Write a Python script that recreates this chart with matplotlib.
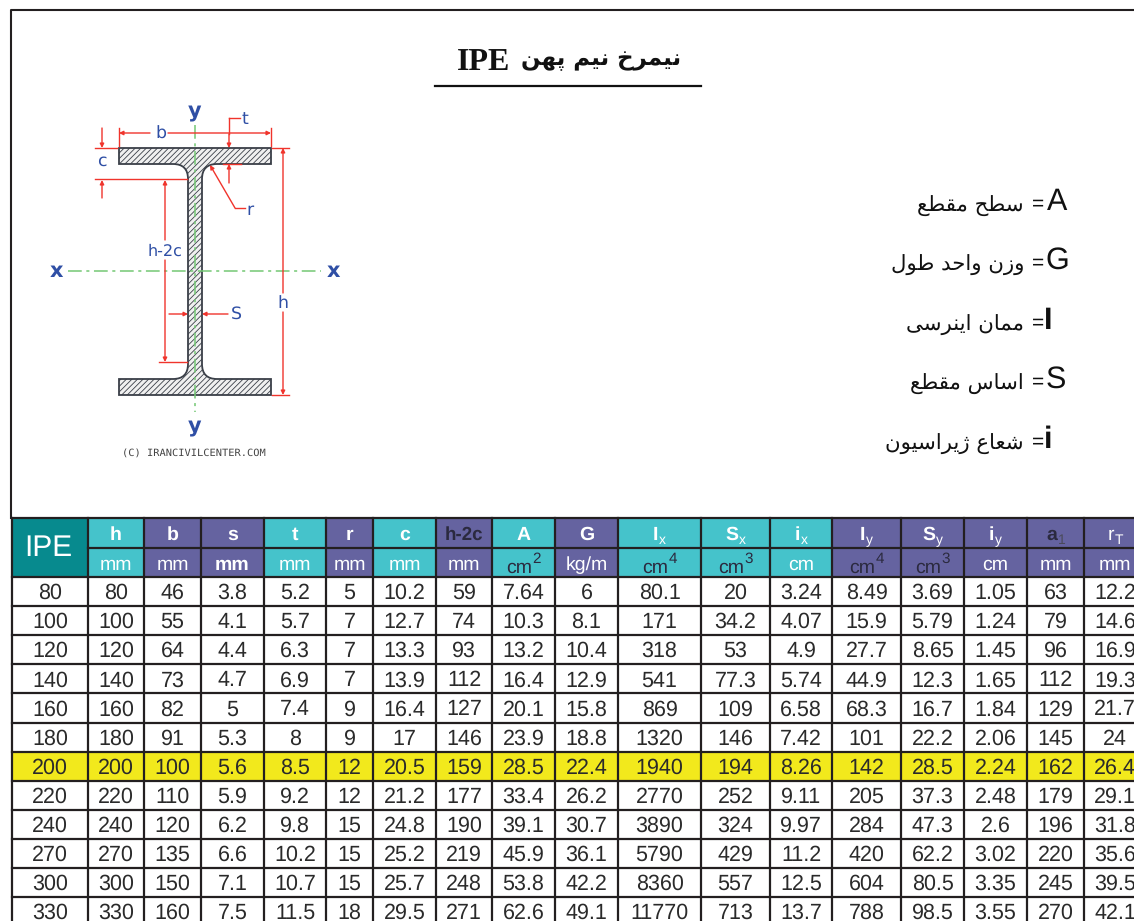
# IPE section table

import matplotlib
matplotlib.use('Agg')
import matplotlib.pyplot as plt
from matplotlib.patches import Rectangle, PathPatch
from matplotlib.path import Path

plt.rcParams['font.family'] = ['Liberation Sans', 'DejaVu Sans']
plt.rcParams['text.hinting'] = 'no_hinting'
plt.rcParams['hatch.color'] = '#a8a8a8'
plt.rcParams['hatch.linewidth'] = 0.6

title_fa = 'نیمرخ نیم پهن'
legend_letters = ['A', 'G', 'I', 'S', 'i']
legend_fa = ['سطح مقطع', 'وزن واحد طول', 'ممان اینرسی', 'اساس مقطع', 'شعاع ژیراسیون']

col_names = ['h', 'b', 's', 't', 'r', 'c', 'h-2c', 'A', 'G', 'I', 'S', 'i', 'I', 'S', 'i', 'a', 'r']
col_subs = ['', '', '', '', '', '', '', '', '', 'x', 'x', 'x', 'y', 'y', 'y', '1', 'T']
col_units = ['mm', 'mm', 'mm', 'mm', 'mm', 'mm', 'mm', 'cm', 'kg/m', 'cm', 'cm', 'cm', 'cm', 'cm', 'cm', 'mm', 'mm']
col_pows = ['', '', '', '', '', '', '', '2', '', '4', '3', '', '4', '3', '', '', '']
teal_cols = [0, 3, 5, 7, 9, 10, 11]

ipe = ['80', '100', '120', '140', '160', '180', '200', '220', '240', '270', '300', '330']
rows = [
    ['80', '46', '3.8', '5.2', '5', '10.2', '59', '7.64', '6', '80.1', '20', '3.24', '8.49', '3.69', '1.05', '63', '12.2'],
    ['100', '55', '4.1', '5.7', '7', '12.7', '74', '10.3', '8.1', '171', '34.2', '4.07', '15.9', '5.79', '1.24', '79', '14.6'],
    ['120', '64', '4.4', '6.3', '7', '13.3', '93', '13.2', '10.4', '318', '53', '4.9', '27.7', '8.65', '1.45', '96', '16.9'],
    ['140', '73', '4.7', '6.9', '7', '13.9', '112', '16.4', '12.9', '541', '77.3', '5.74', '44.9', '12.3', '1.65', '112', '19.3'],
    ['160', '82', '5', '7.4', '9', '16.4', '127', '20.1', '15.8', '869', '109', '6.58', '68.3', '16.7', '1.84', '129', '21.7'],
    ['180', '91', '5.3', '8', '9', '17', '146', '23.9', '18.8', '1320', '146', '7.42', '101', '22.2', '2.06', '145', '24'],
    ['200', '100', '5.6', '8.5', '12', '20.5', '159', '28.5', '22.4', '1940', '194', '8.26', '142', '28.5', '2.24', '162', '26.4'],
    ['220', '110', '5.9', '9.2', '12', '21.2', '177', '33.4', '26.2', '2770', '252', '9.11', '205', '37.3', '2.48', '179', '29.1'],
    ['240', '120', '6.2', '9.8', '15', '24.8', '190', '39.1', '30.7', '3890', '324', '9.97', '284', '47.3', '2.6', '196', '31.8'],
    ['270', '135', '6.6', '10.2', '15', '25.2', '219', '45.9', '36.1', '5790', '429', '11.2', '420', '62.2', '3.02', '220', '35.6'],
    ['300', '150', '7.1', '10.7', '15', '25.7', '248', '53.8', '42.2', '8360', '557', '12.5', '604', '80.5', '3.35', '245', '39.5'],
    ['330', '160', '7.5', '11.5', '18', '29.5', '271', '62.6', '49.1', '11770', '713', '13.7', '788', '98.5', '3.55', '270', '42.1'],
]
highlight = '200'

col_edges = [12, 88, 144, 201, 264, 326, 373, 436, 492, 555, 618, 701, 770, 832, 901, 964, 1027, 1084, 1146]
head_top, head_mid, head_bot = 518, 548, 577
row_h = 29.1

TEAL, PURPLE, DARKTEAL = '#45c3cb', '#6563a0', '#078a8e'
RED, GREEN, BLUE = '#f0342c', '#74c874', '#2f4fa5'
LINE = '#231f20'
DARK = '#2b2a3f'

# matplotlib has no arabic shaping, so pick the presentation forms by hand
forms = {
    'ا': 'ﺍﺎ', 'د': 'ﺩﺪ', 'ر': 'ﺭﺮ', 'ز': 'ﺯﺰ', 'ژ': 'ﮊﮋ', 'و': 'ﻭﻮ',
    'ب': 'ﺏﺐﺑﺒ', 'پ': 'ﭖﭗﭘﭙ', 'ح': 'ﺡﺢﺣﺤ', 'خ': 'ﺥﺦﺧﺨ', 'س': 'ﺱﺲﺳﺴ', 'ش': 'ﺵﺶﺷﺸ',
    'ط': 'ﻁﻂﻃﻄ', 'ع': 'ﻉﻊﻋﻌ', 'ق': 'ﻕﻖﻗﻘ', 'ل': 'ﻝﻞﻟﻠ', 'م': 'ﻡﻢﻣﻤ', 'ن': 'ﻥﻦﻧﻨ',
    'ه': 'ﻩﻪﻫﻬ', 'ی': 'ﯼﯽﯾﯿ', 'ت': 'ﺕﺖﺗﺘ',
}


def shape_fa(text):
    out = []
    for i, ch in enumerate(text):
        if ch not in forms:
            out.append(ch)
            continue
        prev = text[i - 1] if i > 0 else ' '
        nxt = text[i + 1] if i < len(text) - 1 else ' '
        join_prev = prev in forms and len(forms[prev]) == 4
        join_next = nxt in forms and len(forms[ch]) == 4
        f = forms[ch]
        if len(f) == 2:
            out.append(f[1] if join_prev else f[0])
        elif join_prev and join_next:
            out.append(f[3])
        elif join_prev:
            out.append(f[1])
        elif join_next:
            out.append(f[2])
        else:
            out.append(f[0])
    return ''.join(out)[::-1]


fig = plt.figure(figsize=(11.34, 9.21), dpi=100)
ax = fig.add_axes([0, 0, 1, 1])
ax.set_xlim(0, 1134)
ax.set_ylim(921, 0)
ax.axis('off')

# frame
ax.plot([11, 11, 1140], [518, 10.5, 10.5], color=LINE, lw=1.5)

# title
ax.text(457, 69.5, 'IPE', ha='left', va='baseline', fontsize=23, fontweight='bold',
        family='Liberation Serif', color='#111111')
ax.text(681, 60, shape_fa(title_fa), ha='right', va='center', fontsize=16.5, fontweight='bold',
        family='DejaVu Sans', color='#111111')
ax.plot([435, 701], [86, 86], color='#111111', lw=1.6)

# legend on the right
legend_y = [210, 269, 329, 388, 448]
legend_x = [1067, 1069, 1052, 1066, 1052]
for letter, name, y, x in zip(legend_letters, legend_fa, legend_y, legend_x):
    ax.text(x, y, letter, ha='right', va='baseline', fontsize=22, color='#111111',
            fontweight='bold' if letter in 'Ii' else 'normal')
    ax.text(1044, y - 6, '=', ha='right', va='center', fontsize=15, color='#111111')
    ax.text(1024, y - 4, shape_fa(name), ha='right', va='center', fontsize=15.3, color='#111111',
            family='DejaVu Sans')

# section drawing
cx, fl, fr = 195, 119, 271
web_l, web_r = 188, 202
top, top_in, bot_in, bot = 148, 164, 379, 395
rad = 15
verts = [(fl, top), (fr, top), (fr, top_in), (web_r + rad, top_in), (web_r, top_in), (web_r, top_in + rad),
         (web_r, bot_in - rad), (web_r, bot_in), (web_r + rad, bot_in), (fr, bot_in), (fr, bot), (fl, bot),
         (fl, bot_in), (web_l - rad, bot_in), (web_l, bot_in), (web_l, bot_in - rad),
         (web_l, top_in + rad), (web_l, top_in), (web_l - rad, top_in), (fl, top_in), (fl, top)]
codes = [Path.MOVETO, Path.LINETO, Path.LINETO, Path.LINETO, Path.CURVE3, Path.CURVE3,
         Path.LINETO, Path.CURVE3, Path.CURVE3, Path.LINETO, Path.LINETO, Path.LINETO,
         Path.LINETO, Path.LINETO, Path.CURVE3, Path.CURVE3,
         Path.LINETO, Path.CURVE3, Path.CURVE3, Path.LINETO, Path.CLOSEPOLY]
ax.add_patch(PathPatch(Path(verts, codes), facecolor='#f0f0f0', edgecolor='#3a3f48', lw=1.3, hatch='//////'))

# axis lines
ax.plot([68, 321], [271.5, 271.5], color=GREEN, lw=1.1, ls=(0, (9, 3, 2, 3)))
ax.plot([195, 195], [125, 412], color=GREEN, lw=1.1, ls=(0, (9, 3, 2, 3)))


def dim(x0, y0, x1, y1):
    ax.plot([x0, x1], [y0, y1], color=RED, lw=1.0)


def arrow(x0, y0, x1, y1):
    ax.annotate('', xy=(x1, y1), xytext=(x0, y0),
                arrowprops=dict(arrowstyle='-|>', color=RED, lw=1.0, mutation_scale=6, shrinkA=0, shrinkB=0))


# b
dim(119, 128, 119, 146)
dim(271, 128, 271, 146)
arrow(150, 133, 119, 133)
arrow(168, 133, 271, 133)
# t
dim(229, 118, 240, 118)
dim(229, 118, 229, 134)
arrow(229, 134, 229, 148)
arrow(229, 183, 229, 164)
dim(223, 164.5, 241, 164.5)
# c
dim(95, 148, 117, 148)
dim(95, 179.5, 187, 179.5)
arrow(102, 128, 102, 148)
arrow(102, 198, 102, 180)
# r
dim(235, 208, 245, 208)
arrow(235, 208, 210, 165)
# h-2c
arrow(165, 240, 165, 180)
arrow(165, 260, 165, 362)
dim(159, 362.5, 187, 362.5)
# s
arrow(169, 314, 188, 314)
arrow(228, 314, 202, 314)
# h
dim(272, 148, 289, 148)
dim(272, 395, 289, 395)
arrow(283, 293, 283, 148)
arrow(283, 312, 283, 395)

labels = [('y', 195, 112, 15, True), ('y', 195, 427, 15, True), ('x', 56, 271, 15, True), ('x', 333, 271, 15, True),
          ('b', 161, 134, 12.5, False), ('t', 245, 119, 12.5, False), ('c', 102, 161, 12.5, False), ('r', 250, 210, 12.5, False),
          ('h-2c', 165, 251, 11.5, False), ('S', 236, 314, 12.5, False), ('h', 283, 303, 12.5, False)]
for s, x, y, size, bold in labels:
    ax.text(x, y, s, ha='center', va='center', fontsize=size, color=BLUE,
            fontweight='bold' if bold else 'normal', family='DejaVu Sans')
ax.text(194, 453, '(C) IRANCIVILCENTER.COM', ha='center', va='center', fontsize=7.5, color='#444444',
        family='DejaVu Sans Mono')

# table header
ax.add_patch(Rectangle((col_edges[0], head_top), col_edges[1] - col_edges[0], head_bot - head_top,
                       facecolor=DARKTEAL, edgecolor='none'))
ax.text((col_edges[0] + col_edges[1]) / 2 - 2, 548, 'IPE', ha='center', va='center', fontsize=21.5, color='white')
for i, (name, sub, unit, pw) in enumerate(zip(col_names, col_subs, col_units, col_pows)):
    x0, x1 = col_edges[i + 1], col_edges[i + 2]
    xc = (x0 + x1) / 2
    ax.add_patch(Rectangle((x0, head_top), x1 - x0, head_bot - head_top,
                           facecolor=TEAL if i in teal_cols else PURPLE, edgecolor='none'))
    dark_name = name in ('h-2c', 'a')
    bold_name = not (name == 'r' and sub == 'T')
    shift = -4 if sub else 0
    t = ax.text(xc + shift, 540, name, ha='center', va='baseline', fontsize=14 if name != 'h-2c' else 13.5,
                color=DARK if dark_name else 'white', fontweight='bold' if bold_name else 'normal')
    if sub:
        ax.annotate(sub, xy=(1, 0), xycoords=t, xytext=(0.5, 0), textcoords='offset points', ha='left', va='baseline',
                    fontsize=10, color='#4a4a5a' if dark_name else 'white')
    u_shift = -4 if pw else 0
    u = ax.text(xc + u_shift, 573 if pw else 570, unit, ha='center', va='baseline', fontsize=14,
                color=DARK if pw else 'white', fontweight='bold' if i == 2 else 'normal')
    if pw:
        ax.annotate(pw, xy=(1, 0), xycoords=u, xytext=(0, 10), textcoords='offset points', ha='left', va='baseline',
                    fontsize=11, color=DARK)

# table body
for r, (name, row) in enumerate(zip(ipe, rows)):
    y0 = head_bot + r * row_h
    if name == highlight:
        ax.add_patch(Rectangle((col_edges[0], y0), 1134 - col_edges[0], row_h, facecolor='#f2e91c', edgecolor='none'))
    cells = [name] + row
    for c, val in enumerate(cells):
        ax.text((col_edges[c] + col_edges[c + 1]) / 2, y0 + row_h / 2 - 0.5, val, ha='center', va='center_baseline',
                fontsize=15.5, color='#2a2a2a')

# grid
y_end = 921
for x in col_edges:
    ax.plot([x, x], [head_top, y_end], color=LINE, lw=1.6)
ax.plot([col_edges[1], 1140], [head_mid, head_mid], color=LINE, lw=1.6)
ax.plot([col_edges[0], 1140], [head_top, head_top], color=LINE, lw=1.6)
for r in range(len(ipe)):
    y = head_bot + r * row_h
    ax.plot([col_edges[0], 1140], [y, y], color=LINE, lw=1.6)

fig.savefig('out.png', dpi=100)
